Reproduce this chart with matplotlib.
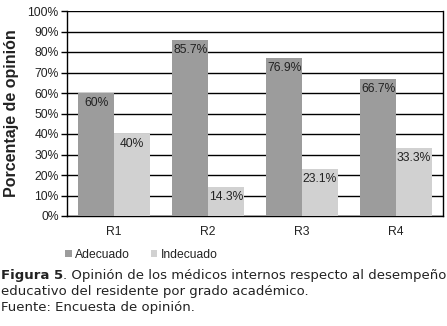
import matplotlib.pyplot as plt
import numpy as np

categories = ["R1", "R2", "R3", "R4"]
adecuado = [60, 85.7, 76.9, 66.7]
indecuado = [40, 14.3, 23.1, 33.3]
adecuado_labels = ["60%", "85.7%", "76.9%", "66.7%"]
indecuado_labels = ["40%", "14.3%", "23.1%", "33.3%"]
y_ticks = [0, 10, 20, 30, 40, 50, 60, 70, 80, 90, 100]

plt.rcParams.update({'font.family': 'Liberation Sans'})

W, H = 447, 326
fig = plt.figure(figsize=(W / 100, H / 100), dpi=100)
ax = fig.add_axes([67 / W, 1 - 216 / H, 376 / W, 205 / H])

x = np.arange(len(categories))
bw = 0.38
b1 = ax.bar(x - bw / 2, adecuado, bw, color="#9c9c9c", label="Adecuado", zorder=3)
b2 = ax.bar(x + bw / 2, indecuado, bw, color="#d1d1d1", label="Indecuado", zorder=3)

# value labels just inside the top of each bar
for bars, labels in ((b1, adecuado_labels), (b2, indecuado_labels)):
    for rect, lab in zip(bars, labels):
        ax.annotate(lab, (rect.get_x() + rect.get_width() / 2, rect.get_height()),
                    xytext=(0, -10), textcoords="offset pixels",
                    ha="center", va="center", fontsize=8.7, color="#222222", zorder=4)

ax.set_xlim(-0.5, 3.5)
ax.set_ylim(0, 100)
ax.set_yticks(y_ticks)
ax.set_yticklabels(["{}%".format(t) for t in y_ticks], fontsize=8.7, color="#222222")
ax.set_xticks(x)
ax.set_xticklabels(categories, fontsize=8.7, color="#222222")
ax.tick_params(axis="x", length=0, pad=7)
ax.tick_params(axis="y", length=4, width=1, direction="out", pad=2)
ax.yaxis.grid(True, color="black", linewidth=1, zorder=0)
for s in ax.spines.values():
    s.set_linewidth(1)
    s.set_color("black")
ax.spines["top"].set_visible(False)

fig.text(12 / W, 1 - 113 / H, "Porcentaje de opinión", rotation=90, ha="center", va="center",
         fontsize=11.5, fontweight="bold", color="#222222")

leg = fig.legend(handles=[b1, b2], loc="center left", bbox_to_anchor=(65 / W, 1 - 255 / H),
                 ncol=2, frameon=False, fontsize=8.7, handlelength=0.55, handleheight=0.55,
                 handletextpad=0.3, columnspacing=1.7, borderaxespad=0, borderpad=0)
for txt in leg.get_texts():
    txt.set_color("#222222")

cap_kw = dict(fontsize=9.5, family="DejaVu Sans", color="#222222", va="center", ha="left")
t = fig.text(1 / W, 1 - 275 / H, "Figura 5", fontweight="bold", **cap_kw)
fig.canvas.draw()
bb = t.get_window_extent()
fig.text(bb.x1 / W, 1 - 275 / H,
         ". Opinión de los médicos internos respecto al desempeño", **cap_kw)
fig.text(1 / W, 1 - 291 / H, "educativo del residente por grado académico.", **cap_kw)
fig.text(1 / W, 1 - 307 / H, "Fuente: Encuesta de opinión.", **cap_kw)

fig.savefig("out.png", dpi=100)
